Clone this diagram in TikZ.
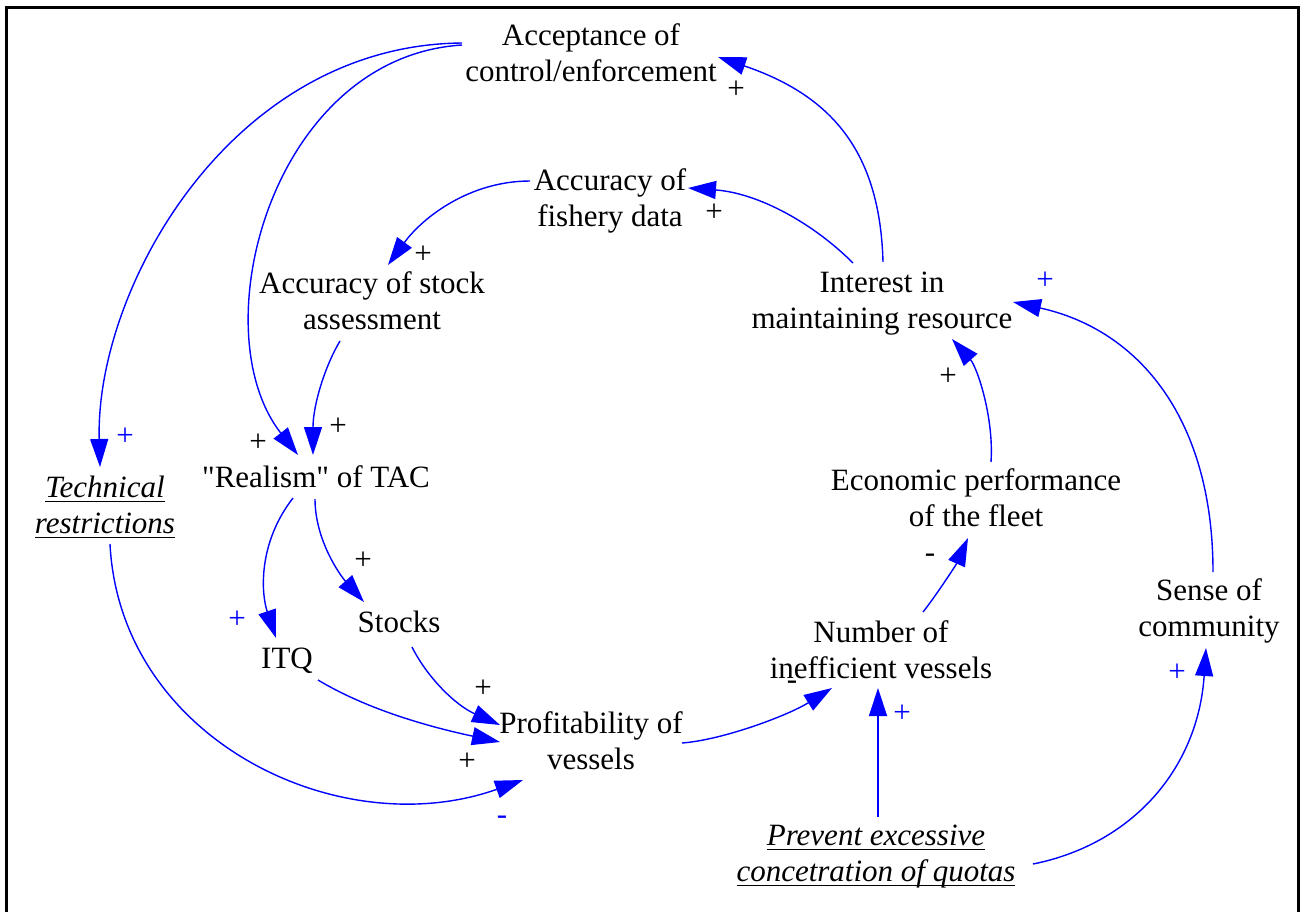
\documentclass[tikz,border=0pt]{standalone}
\usepackage{fontspec}
\setmainfont{Liberation Serif}
% same family without the TeX character mapping, for a straight double quote
\newfontfamily\rawserif{Liberation Serif}
\usetikzlibrary{arrows.meta}
\definecolor{linkblue}{RGB}{0,0,255}
% italic text with a fixed underline below the baseline
\newcommand\ulit[1]{\setbox0=\hbox{\itshape #1}\rlap{\rule[-5pt]{\wd0}{1.3pt}}\box0}
% two centred lines, baseline at the first line
\newcommand\two[2]{\begin{tabular}[t]{@{}c@{}}#1\\#2\end{tabular}}
% straight double quote
\newcommand\sq{{\rawserif\char34}}
\tikzset{
  var/.style={anchor=base, inner sep=0pt, font=\fontsize{31}{36}\selectfont},
  link/.style={draw=linkblue, line width=1.4pt, -{Triangle[length=28pt,width=18pt]}},
  pol/.style={inner sep=0pt, font=\fontsize{31}{36}\selectfont},
  polb/.style={pol, text=linkblue},
  neg/.style={anchor=base, inner sep=0pt, font=\fontsize{31}{36}\selectfont},
}
\begin{document}
\begin{tikzpicture}[x=1pt,y=-1pt]
\useasboundingbox (0,0) rectangle (1301,911);
\fill[white] (0,0) rectangle (1301,911);
\draw[line width=2.5pt] (6.5,925) -- (6.5,7.5) -- (1298.5,7.5) -- (1298.5,925);

% variables
\node[var] (acc)   at (591,45)  {\two{Acceptance of}{control/enforcement}};
\node[var] (fish)  at (610,190) {\two{Accuracy of}{fishery data}};
\node[var] (stock) at (372,293) {\two{Accuracy of stock}{assessment}};
\node[var] (intr)  at (882,292) {\two{Interest in}{maintaining resource}};
\node[var] (real)  at (316,487) {\sq Realism\sq{} of TAC};
\node[var] (tech)  at (105,497) {\two{\ulit{Technical}}{\ulit{restrictions}}};
\node[var] (itq)   at (287,668) {ITQ};
\node[var] (stk)   at (399,632) {Stocks};
\node[var] (prof)  at (591,733) {\two{Profitability of}{vessels}};
\node[var] (num)   at (881,642) {\two{Number of}{inefficient vessels}};
\node[var] (econ)  at (976,490) {\two{Economic performance}{of the fleet}};
\node[var] (sense) at (1209,600) {\two{Sense of}{community}};
\node[var] (prev)  at (876,845) {\two{\ulit{Prevent excessive}}{\ulit{concetration of quotas}}};

% causal links
\draw[link] ([shift={(1,-30)}]intr.base) .. controls +(-3,-112) and +(112,38) .. ([shift={(127,12)}]acc.base);
\draw[link] ([shift={(-29,-29)}]intr.base) .. controls +(-40,-40) and +(70,5) .. ([shift={(78,-2)}]fish.base);
\draw[link] ([shift={(-80,-9)}]fish.base) .. controls +(-60,0) and +(35,-48) .. ([shift={(16,-28)}]stock.base);
\draw[link] ([shift={(-32,48)}]stock.base) .. controls +(-15,25) and +(0,-50) .. ([shift={(-3,-32)}]real.base);
\draw[link] ([shift={(-129,0)}]acc.base) .. controls +(-190,12) and +(-98,-125) .. ([shift={(-18,-32)}]real.base);
\draw[link] ([shift={(-129,-2)}]acc.base) .. controls +(-232,2) and +(-5,-177) .. ([shift={(-5,-30)}]tech.base);
\draw[link] ([shift={(-23,11)}]real.base) .. controls +(-35,45) and +(-15,-45) .. ([shift={(-11,-30)}]itq.base);
\draw[link] ([shift={(-1,12)}]real.base) .. controls +(0,40) and +(-25,-28) .. ([shift={(-35,-30)}]stk.base);
\draw[link] ([shift={(31,12)}]itq.base) .. controls +(50,30) and +(-70,-15) .. ([shift={(-91,9)}]prof.base);
\draw[link] ([shift={(13,15)}]stk.base) .. controls +(15,30) and +(-45,-20) .. ([shift={(-91,-8)}]prof.base);
\draw[link] ([shift={(5,47)}]tech.base) .. controls +(10,196) and +(-183,65) .. ([shift={(-68,47)}]prof.base);
\draw[link] ([shift={(91,10)}]prof.base) .. controls +(40,-3) and +(-45,28) .. ([shift={(-49,46)}]num.base);
\draw[link] ([shift={(42,-30)}]num.base) .. controls +(12,-15) and +(-12,27) .. ([shift={(-8,48)}]econ.base);
\draw[link] ([shift={(15,-28)}]econ.base) .. controls +(3,-45) and +(25,28) .. ([shift={(70,47)}]intr.base);
\draw[link] ([shift={(4,-28)}]sense.base) .. controls +(0,-152) and +(127,28) .. ([shift={(131,10)}]intr.base);
\draw[link] ([shift={(2,-28)}]prev.base) -- ([shift={(-3,46)}]num.base);
\draw[link] ([shift={(157,19)}]prev.base) .. controls +(100,-20) and +(-8,120) .. ([shift={(-3,48)}]sense.base);

% link polarities
\node[pol]  (p1)  at (736,90)  {+};
\node[pol]  (p2)  at (714,213) {+};
\node[pol]  (p3)  at (423,255) {+};
\node[pol]  (p4)  at (338,427) {+};
\node[pol]  (p5)  at (258,443) {+};
\node[polb] (p6)  at (125,437) {+};
\node[polb] (p7)  at (237,620) {+};
\node[pol]  (p8)  at (363,561) {+};
\node[pol]  (p9)  at (467,762) {+};
\node[pol]  (p10) at (483,689) {+};
\node[neg, text=linkblue] (p11) at (502,824) {-};
\node[neg]  (p12) at (792,689) {-};
\node[neg]  (p13) at (930,562) {-};
\node[pol]  (p14) at (948,377) {+};
\node[polb] (p15) at (1045,281) {+};
\node[polb] (p16) at (902,714) {+};
\node[polb] (p17) at (1177,673) {+};
\end{tikzpicture}
\end{document}
